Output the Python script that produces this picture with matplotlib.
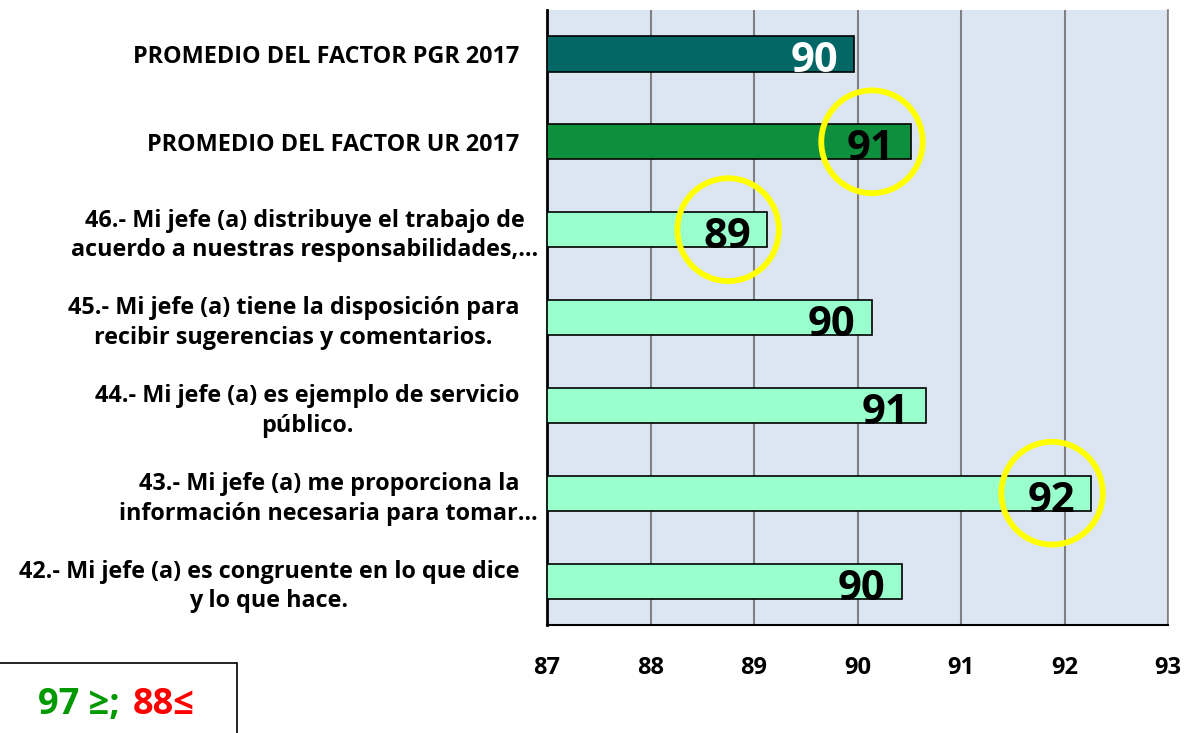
import numpy as np
import matplotlib
matplotlib.use("Agg")
import matplotlib.pyplot as plt
import matplotlib.transforms as mtransforms
from matplotlib.patches import Ellipse, Rectangle

plt.rcParams['font.family'] = ['Open Sans', 'DejaVu Sans']
plt.rcParams['font.weight'] = 'bold'

# data, top to bottom
labels = [
    "PROMEDIO DEL FACTOR PGR 2017",
    "PROMEDIO DEL FACTOR UR 2017",
    "46.- Mi jefe (a) distribuye el trabajo de\nacuerdo a nuestras responsabilidades,\u2026",
    "45.- Mi jefe (a) tiene la disposición para\nrecibir sugerencias y comentarios.",
    "44.- Mi jefe (a) es ejemplo de servicio\npúblico.",
    "43.- Mi jefe (a) me proporciona la\ninformación necesaria para tomar\u2026",
    "42.- Mi jefe (a) es congruente en lo que dice\ny lo que hace.",
]
values = [89.97, 90.52, 89.13, 90.14, 90.66, 92.26, 90.43]
bar_colors = ["#006666", "#0E8F3E", "#99FFCC", "#99FFCC", "#99FFCC", "#99FFCC", "#99FFCC"]
label_colors = ["white", "black", "black", "black", "black", "black", "black"]
circled = [1, 2, 5]
x_ticks = [87, 88, 89, 90, 91, 92, 93]

fig = plt.figure(figsize=(11.86, 7.33), dpi=100)
ax = fig.add_axes([547 / 1186, 1 - 625 / 733, (1168 - 547) / 1186, (625 - 10) / 733])
ax.set_facecolor("#DCE6F2")

y = np.arange(len(values))
ax.barh(y, np.array(values) - 87, left=87, height=0.4, color=bar_colors,
        edgecolor="black", linewidth=1.2, zorder=3)

for i, v in enumerate(values):
    ax.text(v - 0.16, y[i] + 0.21, f"{v:.0f}", ha="right", va="baseline",
            fontsize=30, fontweight="bold", color=label_colors[i], zorder=5)

for i in circled:
    ax.add_patch(Ellipse((values[i] - 0.38, y[i]), 0.98, 1.17, fill=False,
                         edgecolor="#FFFF00", linewidth=4.2, zorder=6, clip_on=False))

ax.set_xlim(87, 93)
ax.set_ylim(len(values) - 0.5, -0.5)
ax.set_xticks(x_ticks)
ax.set_xticklabels([str(t) for t in x_ticks], fontsize=17, fontweight="bold")
ax.set_yticks(y)
ax.set_yticklabels(labels, fontsize=16.8, fontweight="bold", multialignment="center",
                   linespacing=1.3)
ax.tick_params(axis="x", length=0, pad=22)
ax.tick_params(axis="y", length=0, pad=20)

# truncated labels overflow to the right a bit, like in the original
for tl in ax.get_yticklabels():
    if tl.get_text().endswith("\u2026"):
        tl.set_transform(tl.get_transform() +
                         mtransforms.ScaledTranslation(19 / 100, 0, fig.dpi_scale_trans))

ax.grid(axis="x", color="#808080", linewidth=1.5, zorder=0)
ax.set_axisbelow(True)
ax.spines["top"].set_visible(False)
ax.spines["right"].set_color("#808080")
ax.spines["right"].set_linewidth(1.2)
ax.spines["left"].set_color("black")
ax.spines["left"].set_linewidth(2)
ax.spines["bottom"].set_color("black")
ax.spines["bottom"].set_linewidth(1.5)

# legend box, bottom left
fig.add_artist(Rectangle((-0.01, -0.05), 0.01 + 237 / 1186, 0.05 + 70 / 733,
                         transform=fig.transFigure, fill=False,
                         edgecolor="black", linewidth=1.2))
fig.text(38 / 1186, 1 - 714 / 733, "97 \u2265;", color="#009900",
         fontsize=26, fontweight="bold", va="baseline", ha="left")
fig.text(133 / 1186, 1 - 714 / 733, "88\u2264", color="#FF0000",
         fontsize=26, fontweight="bold", va="baseline", ha="left")

fig.savefig("out.png", dpi=100)
